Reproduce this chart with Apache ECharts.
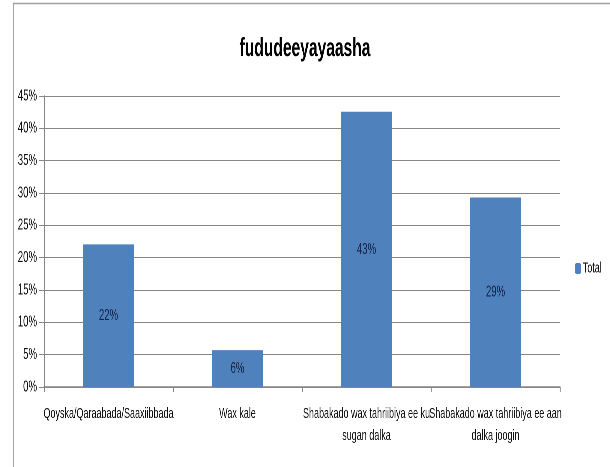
<!DOCTYPE html>
<html>
<head>
<meta charset="utf-8">
<script src="https://cdn.jsdelivr.net/npm/echarts@6/dist/echarts.min.js"></script>
<style>
html,body{margin:0;padding:0;background:#fff;overflow:hidden;}
#wrap{width:610px;height:467px;overflow:hidden;position:relative;}
#chart{width:1017px;height:467px;transform:scaleX(0.59980);transform-origin:0 0;position:absolute;left:0;top:0;}
</style>
</head>
<body>
<div id="wrap"><div id="chart"></div></div>
<script>
var chartTitle = 'fududeeyayaasha';
var categories = ['Qoyska/Qaraabada/Saaxiibbada', 'Wax kale', 'Shabakado wax tahriibiya ee ku\nsugan dalka', 'Shabakado wax tahriibiya ee aan\ndalka joogin'];
var seriesName = 'Total';
var values = [0.2205, 0.057, 0.4257, 0.293];
var yTicks = [0, 0.05, 0.10, 0.15, 0.20, 0.25, 0.30, 0.35, 0.40, 0.45];

// the reference picture is horizontally compressed; the chart is laid out
// on a wider canvas and compressed by the same factor
var SX = 610 / 1017;
function hx(px) { return px / SX; }

var FONT = '"Liberation Sans", Arial, sans-serif';
var chart = echarts.init(document.getElementById('chart'), null, {renderer: 'canvas', devicePixelRatio: 2});
chart.setOption({
  backgroundColor: '#ffffff',
  animation: false,
  graphic: [{
    type: 'rect', silent: true, z: -1,
    shape: {x: hx(13) + 0.5, y: 3.5, width: 1100, height: 480},
    style: {fill: 'none', stroke: '#a0a0a0', lineWidth: 1.5}
  }],
  title: {
    text: chartTitle, left: 'center', top: 31,
    textStyle: {fontFamily: FONT, fontSize: 26, fontWeight: 'bold', color: '#000'}
  },
  legend: {
    data: [seriesName], orient: 'vertical', left: hx(572), top: 256,
    itemWidth: hx(6), itemHeight: 11, itemGap: 4,
    textStyle: {fontFamily: FONT, fontSize: 15, color: '#111', padding: [0, 0, 0, -2]}
  },
  grid: {left: hx(44), right: 1017 - hx(560), top: 96, bottom: 80, containLabel: false},
  xAxis: {
    type: 'category', data: categories,
    axisLine: {lineStyle: {color: '#868686', width: 1.5}},
    axisTick: {show: true, length: 5, lineStyle: {color: '#868686', width: 1.5}},
    axisLabel: {fontFamily: FONT, fontSize: 15, color: '#111', interval: 0, margin: 16, lineHeight: 22}
  },
  yAxis: {
    type: 'value', min: 0, max: 0.45, interval: 0.05,
    axisLine: {show: true, lineStyle: {color: '#868686', width: 1.5}},
    axisTick: {show: true, length: hx(5), lineStyle: {color: '#868686'}},
    splitLine: {lineStyle: {color: '#868686', width: 1}},
    axisLabel: {
      fontFamily: FONT, fontSize: 16, color: '#111', margin: hx(7),
      formatter: function (v) { return Math.round(v * 100) + '%'; }
    }
  },
  series: [{
    name: seriesName, type: 'bar', data: values, barWidth: hx(51),
    itemStyle: {color: '#4f81bd'},
    label: {
      show: true, position: 'inside', fontFamily: FONT, fontSize: 16, color: '#16264a',
      formatter: function (p) { return Math.round(p.value * 100) + '%'; }
    }
  }]
});
</script>
</body>
</html>
